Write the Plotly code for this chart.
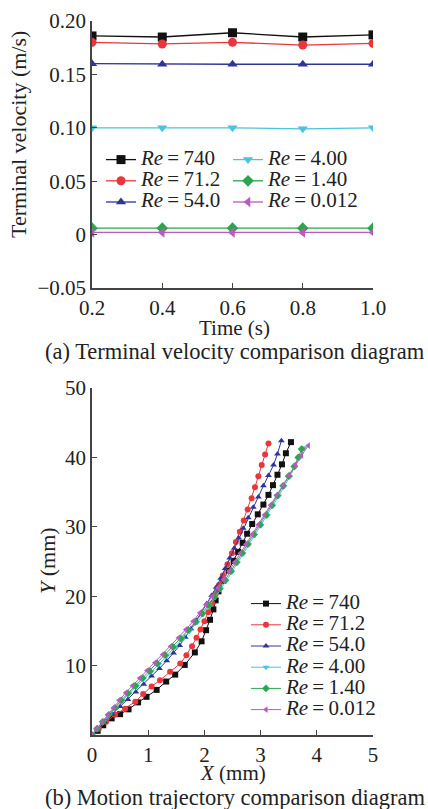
import plotly.graph_objects as go

# ---------------- data: (a) terminal velocity ----------------
time_s = [0.2, 0.4, 0.6, 0.8, 1.0]
v_re740 = [0.186, 0.185, 0.189, 0.185, 0.187]
v_re71_2 = [0.180, 0.1785, 0.180, 0.1775, 0.179]
v_re54_0 = [0.160, 0.1595, 0.1595, 0.1595, 0.1595]
v_re4_00 = [0.100, 0.100, 0.100, 0.099, 0.100]
v_re1_40 = [0.006, 0.006, 0.006, 0.006, 0.006]
v_re0_012 = [0.002, 0.002, 0.002, 0.002, 0.002]

# ---------------- data: (b) trajectories (X mm, Y mm) ----------------
traj_re740 = [(0, 0), (0.1, 0.6), (0.2, 1.4), (0.35, 2.4), (0.5, 3.0), (0.65, 3.7), (0.82, 4.7),
              (0.97, 5.5), (1.15, 6.5), (1.32, 7.7), (1.48, 8.7), (1.65, 10.1), (1.83, 11.9),
              (1.95, 13.5), (2.03, 15.1), (2.1, 16.6), (2.16, 18.1), (2.2, 19.4), (2.25, 20.7),
              (2.33, 22.2), (2.43, 23.7), (2.52, 25.1), (2.6, 26.4), (2.68, 27.7), (2.76, 29.0),
              (2.85, 30.4), (2.95, 31.8), (3.05, 33.2), (3.14, 34.6), (3.22, 36.0), (3.3, 37.5),
              (3.38, 39.0), (3.45, 40.6), (3.54, 42.2)]
traj_re71_2 = [(0, 0), (0.12, 0.9), (0.25, 1.9), (0.41, 2.9), (0.59, 3.8), (0.77, 4.8), (0.91, 5.9),
               (1.06, 7.0), (1.21, 7.9), (1.39, 9.1), (1.57, 10.3), (1.68, 11.5), (1.78, 12.8),
               (1.86, 14.0), (1.93, 15.2), (2.0, 16.4), (2.07, 17.7), (2.14, 19.0), (2.2, 20.3),
               (2.26, 21.6), (2.33, 23.0), (2.41, 24.6), (2.49, 26.2), (2.56, 27.8), (2.63, 29.3),
               (2.7, 30.9), (2.77, 32.5), (2.84, 34.1), (2.9, 35.7), (2.96, 37.3), (3.02, 38.9),
               (3.08, 40.4), (3.14, 42.0)]
traj_re54_0 = [(0, 0), (0.1, 0.9), (0.22, 1.9), (0.36, 3.0), (0.5, 4.1), (0.64, 5.1), (0.78, 6.2),
               (0.92, 7.3), (1.06, 8.5), (1.2, 9.6), (1.33, 10.7), (1.45, 11.8), (1.56, 12.9),
               (1.66, 14.1), (1.76, 15.3), (1.86, 16.5), (1.95, 17.7), (2.04, 18.9), (2.13, 20.1),
               (2.21, 21.3), (2.29, 22.6), (2.37, 24.0), (2.45, 25.5), (2.53, 26.9), (2.61, 28.4),
               (2.69, 29.8), (2.78, 31.3), (2.87, 32.8), (2.96, 34.3), (3.05, 35.9), (3.14, 37.4),
               (3.23, 38.9), (3.3, 40.5), (3.37, 42.4)]
traj_re4_00 = [(0, 0), (0.1, 0.9), (0.2, 1.9), (0.31, 2.9), (0.42, 3.9), (0.54, 4.9), (0.66, 6.0),
               (0.79, 7.0), (0.92, 8.1), (1.05, 9.1), (1.19, 10.2), (1.33, 11.4), (1.47, 12.6),
               (1.61, 13.8), (1.74, 15.0), (1.87, 16.2), (1.98, 17.4), (2.09, 18.6), (2.19, 19.8),
               (2.29, 21.0), (2.39, 22.2), (2.49, 23.5), (2.59, 24.8), (2.69, 26.1), (2.79, 27.4),
               (2.9, 28.8), (3.01, 30.2), (3.12, 31.6), (3.22, 33.0), (3.32, 34.4), (3.42, 35.8),
               (3.52, 37.2), (3.61, 38.6), (3.69, 39.9), (3.77, 41.4)]
traj_re1_40 = [(0, 0), (0.09, 0.9), (0.19, 1.9), (0.3, 2.9), (0.41, 3.9), (0.52, 5.0), (0.64, 6.0),
               (0.77, 7.1), (0.9, 8.2), (1.03, 9.2), (1.16, 10.3), (1.3, 11.5), (1.44, 12.7),
               (1.58, 13.9), (1.71, 15.1), (1.84, 16.3), (1.96, 17.5), (2.07, 18.7), (2.17, 19.9),
               (2.27, 21.1), (2.37, 22.3), (2.47, 23.6), (2.57, 24.9), (2.67, 26.2), (2.77, 27.5),
               (2.88, 28.9), (2.99, 30.3), (3.1, 31.7), (3.2, 33.1), (3.3, 34.5), (3.4, 35.9),
               (3.5, 37.3), (3.6, 38.7), (3.67, 40.0), (3.73, 41.2)]
traj_re0_012 = [(0, 0), (0.08, 0.9), (0.18, 1.9), (0.28, 2.9), (0.38, 3.9), (0.48, 5.0), (0.6, 6.1),
                (0.72, 7.1), (0.85, 8.2), (0.98, 9.3), (1.12, 10.4), (1.26, 11.6), (1.4, 12.8),
                (1.54, 14.0), (1.67, 15.2), (1.8, 16.4), (1.92, 17.6), (2.03, 18.8), (2.14, 20.0),
                (2.24, 21.2), (2.34, 22.4), (2.44, 23.6), (2.54, 24.9), (2.64, 26.2), (2.74, 27.5),
                (2.85, 28.9), (2.96, 30.3), (3.07, 31.7), (3.18, 33.1), (3.29, 34.6), (3.4, 36.0),
                (3.51, 37.5), (3.62, 39.0), (3.73, 40.3), (3.85, 41.7)]

re_labels = ["740", "71.2", "54.0", "4.00", "1.40", "0.012"]
velocities = [v_re740, v_re71_2, v_re54_0, v_re4_00, v_re1_40, v_re0_012]
trajectories = [traj_re740, traj_re71_2, traj_re54_0, traj_re4_00, traj_re1_40, traj_re0_012]

colors = ["#111111", "#e8363c", "#2f3596", "#4cc3dc", "#2aa64c", "#b85cbc"]
symbols = ["square", "circle", "triangle-up", "triangle-down", "diamond", "triangle-left"]

FONT = "Liberation Serif, Times New Roman, serif"
TXT = "#222222"
W, H = 428, 809


def legend_name(lab):
    # large visible text inside a compact legend row
    return f'<span style="font-size:21px"><i>Re</i>\u2009=\u2009{lab}</span>'


fig = go.Figure()

for i, (lab, v) in enumerate(zip(re_labels, velocities)):
    fig.add_trace(go.Scatter(
        x=time_s, y=v, mode="lines+markers",
        name=legend_name(lab),
        line=dict(color=colors[i], width=1.3),
        marker=dict(symbol=symbols[i], size=9, color=colors[i]),
        xaxis="x", yaxis="y",
        legend="legend" if i < 3 else "legend2",
    ))

for i, (lab, tr) in enumerate(zip(re_labels, trajectories)):
    fig.add_trace(go.Scatter(
        x=[p[0] for p in tr], y=[p[1] for p in tr], mode="lines+markers",
        name=legend_name(lab),
        line=dict(color=colors[i], width=1),
        marker=dict(symbol=symbols[i], size=6, color=colors[i]),
        xaxis="x2", yaxis="y2",
        legend="legend3",
    ))


def px_x(p):
    return p / W


def px_y(p):
    return 1 - p / H


axis_common = dict(
    showline=True, linecolor="#444444", linewidth=1.5,
    ticks="inside", ticklen=5, tickcolor="#444444", tickwidth=1.2,
    showgrid=False, zeroline=False, automargin=False,
    tickfont=dict(family=FONT, size=21, color=TXT),
)

legend_common = dict(xanchor="left", yanchor="top", bgcolor="rgba(0,0,0,0)",
                     font=dict(family=FONT, size=14, color=TXT),
                     tracegroupgap=0, itemwidth=30)

fig.update_layout(
    width=W, height=H,
    margin=dict(l=0, r=0, t=0, b=0, pad=0, autoexpand=False),
    paper_bgcolor="white", plot_bgcolor="white",
    font=dict(family=FONT, size=21, color=TXT),
    xaxis=dict(domain=[px_x(92), px_x(373)], range=[0.2, 1.0], anchor="y",
               tickvals=[0.2, 0.4, 0.6, 0.8, 1.0], ticktext=["0.2", "0.4", "0.6", "0.8", "1.0"],
               **axis_common),
    yaxis=dict(domain=[px_y(288), px_y(21)], range=[-0.05, 0.20], anchor="x",
               tickvals=[-0.05, 0, 0.05, 0.10, 0.15, 0.20],
               ticktext=["\u22120.05", "0", "0.05", "0.10", "0.15", "0.20"],
               **axis_common),
    xaxis2=dict(domain=[px_x(92), px_x(373)], range=[0, 5], anchor="y2",
                tickvals=[0, 1, 2, 3, 4, 5], **axis_common),
    yaxis2=dict(domain=[px_y(735), px_y(388)], range=[0, 50], anchor="x2",
                tickvals=[10, 20, 30, 40, 50], **axis_common),
    legend=dict(x=px_x(101), y=px_y(144), **legend_common),
    legend2=dict(x=px_x(228), y=px_y(144), **legend_common),
    legend3=dict(x=px_x(246), y=px_y(588), **legend_common),
    showlegend=True,
)

annotations = [
    dict(text="Terminal velocity (m/s)", x=px_x(18), y=px_y(135), textangle=-90, size=22),
    dict(text="Time (s)", x=px_x(234), y=px_y(328), size=21),
    dict(text="(a) Terminal velocity comparison diagram", x=px_x(43), y=px_y(351), xanchor="left", size=22.5),
    dict(text="<i>Y</i> (mm)", x=px_x(47), y=px_y(561), textangle=-90, size=22),
    dict(text="<i>X</i> (mm)", x=px_x(233), y=px_y(773), size=21),
    dict(text="(b) Motion trajectory comparison diagram", x=px_x(43), y=px_y(797), xanchor="left", size=22.5),
]
for a in annotations:
    fig.add_annotation(xref="paper", yref="paper", showarrow=False,
                       font=dict(family=FONT, size=a["size"], color=TXT),
                       xanchor=a.get("xanchor", "center"), yanchor="middle",
                       x=a["x"], y=a["y"], text=a["text"], textangle=a.get("textangle", 0))

fig.write_html("out.html")
